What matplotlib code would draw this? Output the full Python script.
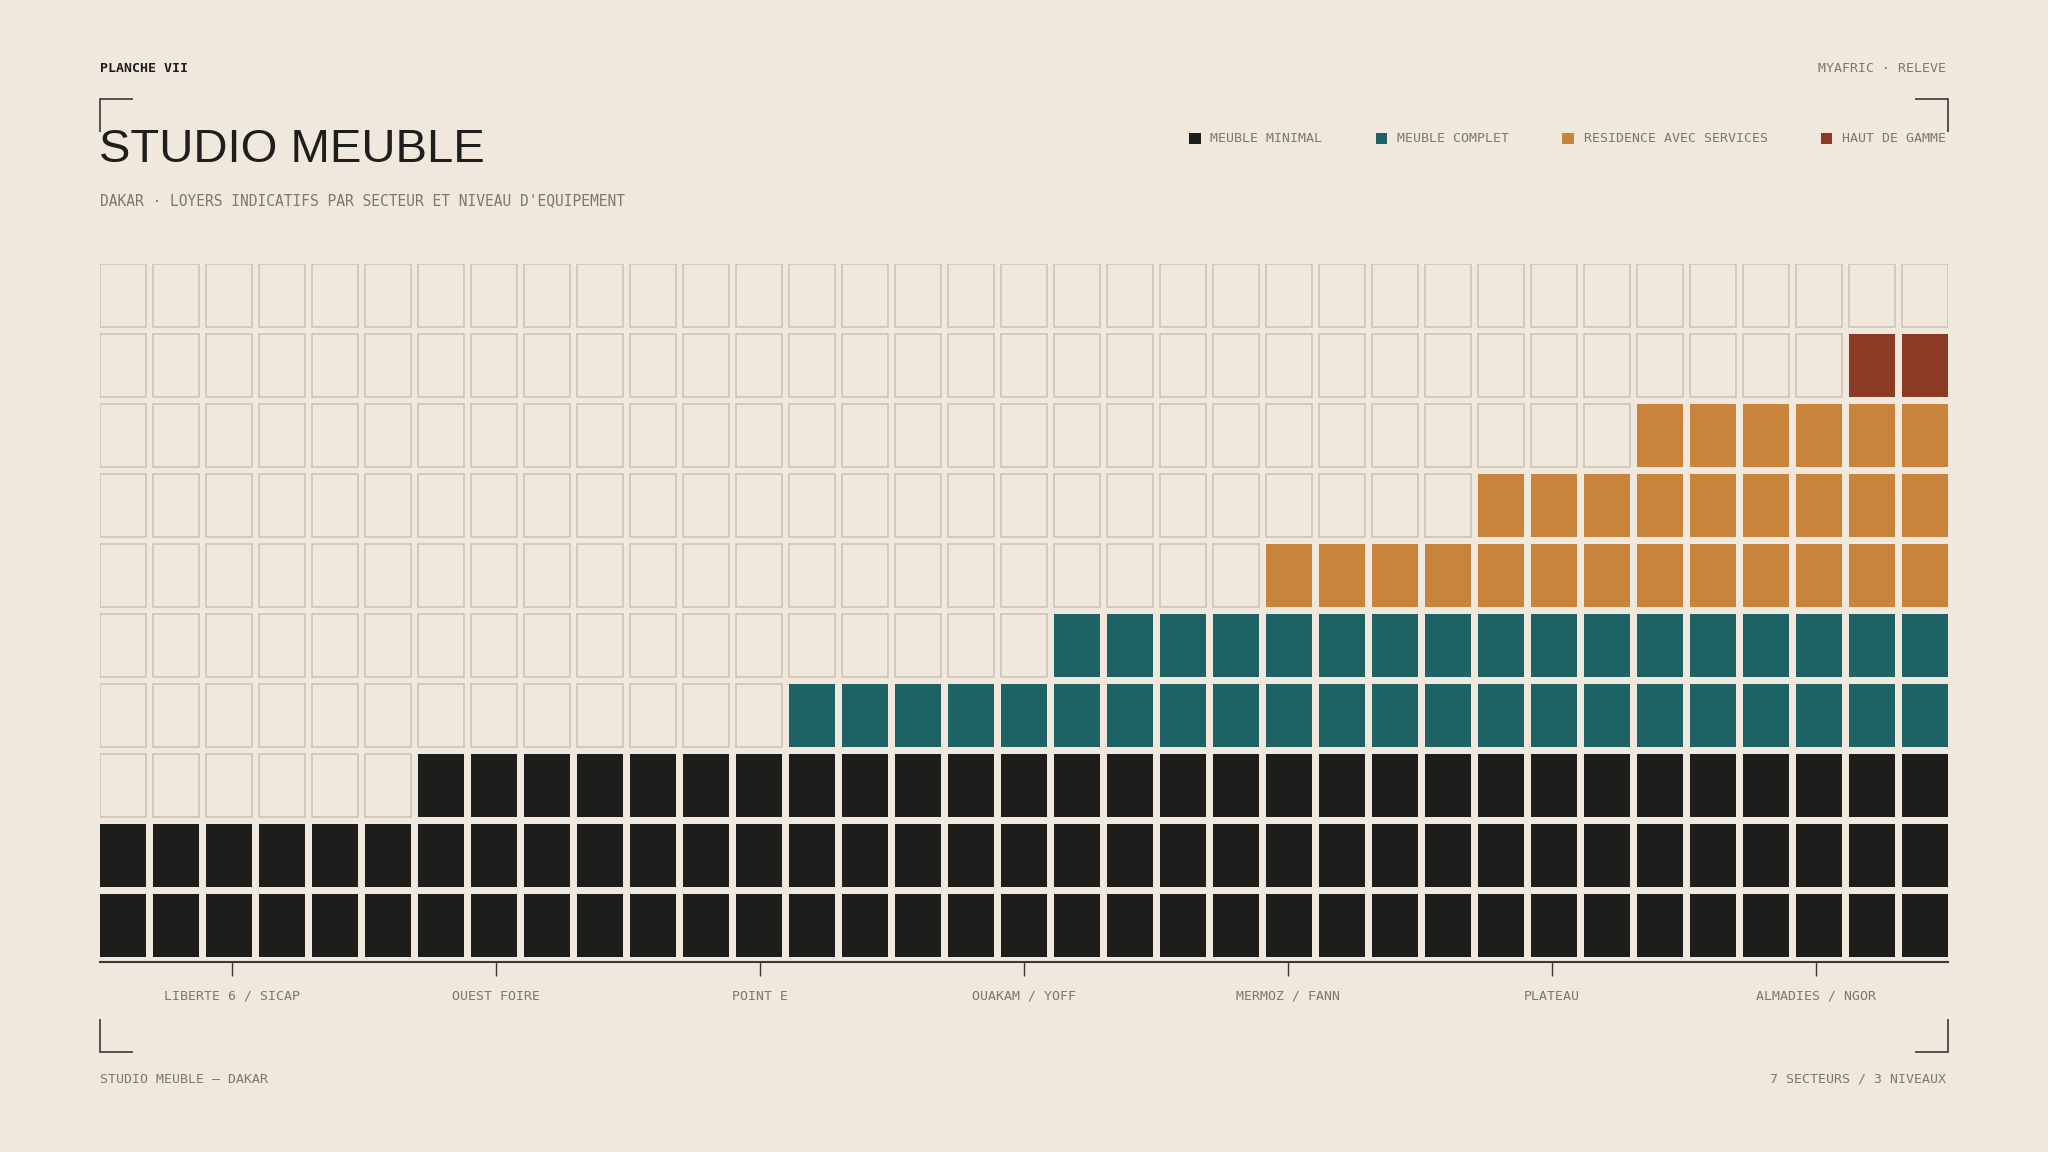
import numpy as np
import matplotlib.pyplot as plt
from matplotlib.patches import Rectangle

# sectors (5 columns each) and equipment levels
sectors = ["LIBERTE 6 / SICAP", "OUEST FOIRE", "POINT E", "OUAKAM / YOFF",
           "MERMOZ / FANN", "PLATEAU", "ALMADIES / NGOR"]
levels = ["MEUBLE MINIMAL", "MEUBLE COMPLET", "RESIDENCE AVEC SERVICES", "HAUT DE GAMME"]

# cells per column, stacked from bottom
minimal   = [2,2,2,2,2, 2,3,3,3,3, 3,3,3,3,3, 3,3,3,3,3, 3,3,3,3,3, 3,3,3,3,3, 3,3,3,3,3]
complet   = [0,0,0,0,0, 0,0,0,0,0, 0,0,0,1,1, 1,1,1,2,2, 2,2,2,2,2, 2,2,2,2,2, 2,2,2,2,2]
residence = [0,0,0,0,0, 0,0,0,0,0, 0,0,0,0,0, 0,0,0,0,0, 0,0,1,1,1, 1,2,2,2,3, 3,3,3,3,3]
haut      = [0,0,0,0,0, 0,0,0,0,0, 0,0,0,0,0, 0,0,0,0,0, 0,0,0,0,0, 0,0,0,0,0, 0,0,0,1,1]

n_rows = 10

BG = "#f0e8dc"
EMPTY_EDGE = "#cac1b3"
DARK = "#1e1e1e"
GRAY = "#7f766c"
LINE = "#3a3a3a"
colors = ["#1d1e1c", "#1f6266", "#c8843a", "#8b3a24"]
MONO = "DejaVu Sans Mono"
SMALL = 9.5

W, H = 2048, 1152
fig = plt.figure(figsize=(W / 100, H / 100), dpi=100, facecolor=BG)

# overlay in pixel coords for titles, legend, brackets
over = fig.add_axes([0, 0, 1, 1])
over.set_xlim(0, W)
over.set_ylim(H, 0)
over.axis("off")

# waffle grid
ax = fig.add_axes([100 / W, 1 - 957 / H, 1848 / W, (957 - 264) / H])
ax.set_facecolor("none")
n_cols = len(minimal)
cw, ch = 46 / 53, 63 / 70
xmax = n_cols - 1 + cw
ax.set_xlim(0, xmax)
ax.set_ylim(0, n_rows - 1 + ch)

stack = [minimal, complet, residence, haut]
for j in range(n_cols):
    filled = []
    for k in range(len(stack)):
        filled += [colors[k]] * stack[k][j]
    for r in range(n_rows):
        if r < len(filled):
            ax.add_patch(Rectangle((j, r), cw, ch, facecolor=filled[r], edgecolor="none"))
        else:
            ax.add_patch(Rectangle((j, r), cw, ch, facecolor=BG, edgecolor=EMPTY_EDGE, lw=1.1))

for s in ["left", "top", "right"]:
    ax.spines[s].set_visible(False)
ax.spines["bottom"].set_position(("outward", 3.6))
ax.spines["bottom"].set_color(LINE)
ax.spines["bottom"].set_linewidth(1.5)
ax.set_yticks([])
ax.set_xticks([(i + 0.5) * xmax / len(sectors) for i in range(len(sectors))])
ax.set_xticklabels(sectors, fontfamily=MONO, fontsize=SMALL, color=GRAY)
ax.tick_params(axis="x", direction="out", length=10, width=1, color=LINE, pad=10)

# header
over.text(100, 72, "PLANCHE VII", fontfamily=MONO, fontsize=SMALL, fontweight="bold",
          color=DARK, va="baseline", ha="left")
over.text(1946, 72, "MYAFRIC · RELEVE", fontfamily=MONO, fontsize=SMALL,
          color=GRAY, va="baseline", ha="right")
over.text(99, 162, "STUDIO MEUBLE", fontfamily="Liberation Sans", fontsize=34,
          color=DARK, va="baseline", ha="left")
over.text(100, 205, "DAKAR · LOYERS INDICATIFS PAR SECTEUR ET NIVEAU D'EQUIPEMENT",
          fontfamily=MONO, fontsize=10.5, color=GRAY, va="baseline", ha="left")

# footer
over.text(100, 1083, "STUDIO MEUBLE — DAKAR", fontfamily=MONO, fontsize=SMALL,
          color=GRAY, va="baseline", ha="left")
over.text(1946, 1083, "7 SECTEURS / 3 NIVEAUX", fontfamily=MONO, fontsize=SMALL,
          color=GRAY, va="baseline", ha="right")

# corner brackets
arm = 33
for cx, cy, dx, dy in [(100, 99, 1, 1), (1948, 99, -1, 1), (100, 1052, 1, -1), (1948, 1052, -1, -1)]:
    over.plot([cx + dx * arm, cx, cx], [cy, cy, cy + dy * arm], color=LINE, lw=1.2,
              solid_capstyle="butt", solid_joinstyle="miter")

# legend, laid out right to left
renderer = fig.canvas.get_renderer()
x_right = 1946
for name, col in reversed(list(zip(levels, colors))):
    t = over.text(x_right, 142, name, fontfamily=MONO, fontsize=SMALL, color=GRAY,
                  va="baseline", ha="right")
    w = t.get_window_extent(renderer).width
    x_sq = x_right - w - 10 - 11.5
    over.add_patch(Rectangle((x_sq, 132.5), 11.5, 11.5, facecolor=col, edgecolor="none"))
    x_right = x_sq - 53

fig.savefig("out.png", dpi=100, facecolor=BG)
